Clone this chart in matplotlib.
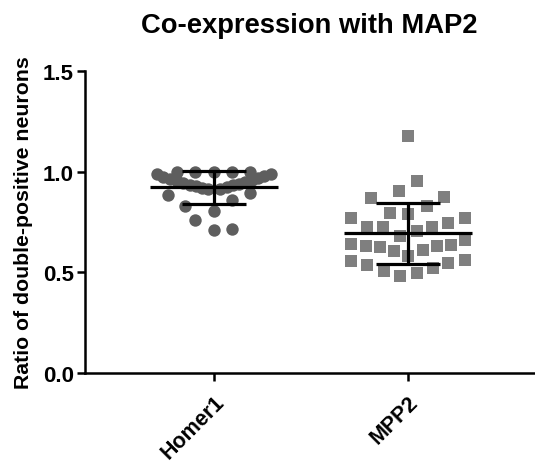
import numpy as np
import matplotlib.pyplot as plt

plt.rcParams['font.family'] = ['Liberation Sans', 'DejaVu Sans']
plt.rcParams['font.weight'] = 'bold'

# ---------------- DATA ----------------
groups = ['Homer1', 'MPP2']

homer1_values = [1.00, 1.00, 1.00, 1.00, 1.00,
                 0.990, 0.975, 0.965, 0.955, 0.945, 0.935, 0.930, 0.920, 0.915,
                 0.990, 0.980, 0.970, 0.960, 0.950, 0.940, 0.935, 0.925, 0.915,
                 0.885, 0.895, 0.860, 0.830, 0.805, 0.760, 0.712, 0.715]
# horizontal scatter of each point (fraction of category spacing)
homer1_jitter = [-0.191, -0.098, 0.0, 0.093, 0.186,
                 -0.294, -0.263, -0.227, -0.191, -0.160, -0.124, -0.093, -0.062, -0.031,
                 0.294, 0.258, 0.227, 0.196, 0.160, 0.129, 0.098, 0.067, 0.031,
                 -0.237, 0.186, 0.093, -0.149, 0.0, -0.098, 0.0, 0.093]

mpp2_values = [1.179, 0.955, 0.906, 0.868, 0.876,
               0.795, 0.790, 0.828, 0.768,
               0.727, 0.724, 0.682, 0.707, 0.727, 0.745, 0.768,
               0.641, 0.632, 0.624, 0.605, 0.583, 0.613, 0.629, 0.636, 0.662,
               0.555, 0.537, 0.508, 0.483, 0.497, 0.520, 0.546, 0.563]
mpp2_jitter = [0.0, 0.046, -0.046, -0.188, 0.188,
               -0.093, 0.0, 0.097, -0.291,
               -0.209, -0.128, -0.041, 0.045, 0.125, 0.208, 0.294,
               -0.291, -0.216, -0.144, -0.072, 0.0, 0.076, 0.148, 0.220, 0.294,
               -0.291, -0.209, -0.124, -0.041, 0.045, 0.127, 0.208, 0.294]

# ---------------- PLOT ----------------
fig = plt.figure(figsize=(5.35, 4.64), dpi=100)
ax = fig.add_axes([0.159, 0.194, 0.839, 0.651])

series = [
    (homer1_values, homer1_jitter, 'o', '#5e5e5e', 80),
    (mpp2_values, mpp2_jitter, 's', '#7f7f7f', 72),
]

for i, (vals, jit, mk, col, sz) in enumerate(series):
    vals = np.array(vals)
    ax.scatter(i + np.array(jit), vals, marker=mk, s=sz, color=col,
               linewidths=0, zorder=2)
    m = vals.mean()
    sd = vals.std(ddof=1)
    ax.hlines(m, i - 0.33, i + 0.33, color='black', lw=2.3, zorder=3)
    ax.vlines(i, m - sd, m + sd, color='black', lw=2.3, zorder=3)
    ax.hlines([m - sd, m + sd], i - 0.165, i + 0.165, color='black', lw=2.3, zorder=3)

ax.set_xlim(-0.665, 1.65)
ax.set_ylim(0, 1.5)
ax.set_yticks([0.0, 0.5, 1.0, 1.5])
ax.set_yticklabels(['0.0', '0.5', '1.0', '1.5'])
ax.set_xticks([0, 1])
ax.set_xticklabels(groups, rotation=45, ha='right', rotation_mode='anchor')

for s in ['top', 'right']:
    ax.spines[s].set_visible(False)
for s in ['left', 'bottom']:
    ax.spines[s].set_linewidth(1.8)
ax.tick_params(axis='both', width=1.8, length=6, labelsize=16)
ax.tick_params(axis='x', pad=7, labelsize=15.5)
ax.tick_params(axis='y', pad=2)

ax.set_ylabel('Ratio of double-positive neurons', fontsize=15.3, fontweight='bold',
              labelpad=7)
ax.set_title('Co-expression with MAP2', fontsize=19.7, fontweight='bold', pad=28)

fig.savefig('out.png', dpi=100)
